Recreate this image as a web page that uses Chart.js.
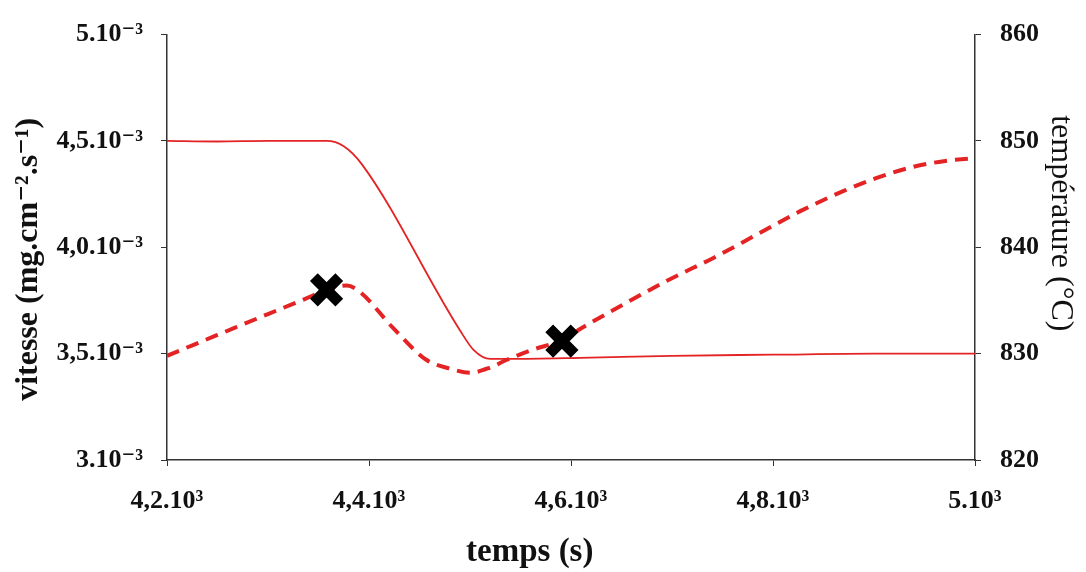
<!DOCTYPE html>
<html><head><meta charset="utf-8">
<script src="https://cdn.jsdelivr.net/npm/chart.js@4.4.1/dist/chart.umd.min.js"></script>
<style>html,body{margin:0;padding:0;background:#fff;} canvas{display:block;}</style>
</head><body>
<canvas id="c" width="1086" height="572"></canvas>
<script>
// Temperature (solid line, right axis)
const tempsTemperature = [4200, 4250, 4300, 4358, 4375, 4393, 4490, 4504, 4520, 4540, 4609, 4700, 4800, 4900, 5000];
const temperature      = [850.0, 849.95, 850.0, 850.0, 849.5, 847.8, 832.2, 830.3, 829.5, 829.5, 829.6, 829.8, 829.9, 830.0, 830.0];
// Vitesse (dashed line, left axis)
const tempsVitesse = [4200, 4250, 4300, 4338, 4358, 4378, 4391, 4424, 4457, 4480, 4500, 4520, 4536, 4563, 4589, 4614, 4655, 4698, 4741, 4784, 4827, 4870, 4902, 4936, 4969, 5000];
const vitesse      = [0.00349, 0.003588, 0.003686, 0.00376, 0.00380, 0.00382, 0.00379, 0.00362, 0.00347, 0.00343, 0.00341, 0.003435, 0.00347, 0.00352, 0.00356, 0.00363, 0.00374, 0.00385, 0.00395, 0.00406, 0.00417, 0.004265, 0.004325, 0.004375, 0.004405, 0.00442];
// Markers
const tempsMarqueurs = [4358, 4591];
const vitesseMarqueurs = [0.00380, 0.003559];
// Ticks
const xTicks = [4200, 4400, 4600, 4800, 5000];
const xTickLabels = ['4,2.10³', '4,4.10³', '4,6.10³', '4,8.10³', '5.10³'];
const yTicks = [0.003, 0.0035, 0.004, 0.0045, 0.005];
const yTickLabels = ['3.10⁻³', '3,5.10⁻³', '4,0.10⁻³', '4,5.10⁻³', '5.10⁻³'];
const tTicks = [820, 830, 840, 850, 860];
const tTickLabels = ['820', '830', '840', '850', '860'];

const RED = 'rgb(228, 36, 36)';
const AXIS = '#333';
const FONT = '"Liberation Serif", "DejaVu Serif", serif';

function pts(xs, ys) { return xs.map((x, i) => ({x: x, y: ys[i]})); }
function setTicks(list) { return (scale) => { scale.ticks = list.map(v => ({value: v})); }; }

new Chart(document.getElementById('c'), {
  type: 'line',
  data: {
    datasets: [
      {
        label: 'points',
        data: pts(tempsMarqueurs, vitesseMarqueurs),
        yAxisID: 'y',
        showLine: false,
        pointStyle: 'crossRot',
        pointRadius: 18,
        pointBorderWidth: 11,
        pointBorderColor: '#000',
        pointBackgroundColor: '#000',
        order: 0
      },
      {
        label: 'vitesse',
        data: pts(tempsVitesse, vitesse),
        yAxisID: 'y',
        borderColor: RED,
        borderWidth: 4,
        borderDash: [13, 8],
        pointRadius: 0,
        cubicInterpolationMode: 'monotone',
        order: 1
      },
      {
        label: 'température',
        data: pts(tempsTemperature, temperature),
        yAxisID: 'yT',
        borderColor: RED,
        borderWidth: 1.8,
        pointRadius: 0,
        cubicInterpolationMode: 'monotone',
        order: 2
      }
    ]
  },
  options: {
    responsive: false,
    animation: false,
    devicePixelRatio: 1,
    layout: { padding: { top: 31, left: 0, right: 0, bottom: 0 } },
    plugins: { legend: { display: false }, tooltip: { enabled: false } },
    scales: {
      x: {
        type: 'linear',
        min: 4200, max: 5000,
        afterBuildTicks: setTicks(xTicks),
        afterFit: (s) => { s.height = 112; },
        border: { display: true, color: AXIS, width: 1.5 },
        grid: { drawOnChartArea: false, drawTicks: true, tickLength: 6, tickColor: AXIS },
        ticks: {
          padding: 20,
          color: '#111',
          maxRotation: 0,
          font: { family: FONT, size: 26, weight: 'bold' },
          callback: (v, i) => xTickLabels[i]
        },
        title: {
          display: true,
          text: 'temps (s)' + '\u00A0'.repeat(10),
          color: '#111',
          padding: { top: 0, bottom: 0 },
          font: { family: FONT, size: 33, weight: 'bold' }
        }
      },
      y: {
        type: 'linear',
        position: 'left',
        min: 0.003, max: 0.005,
        afterBuildTicks: setTicks(yTicks),
        afterFit: (s) => { s.width = 167; },
        border: { display: true, color: AXIS, width: 1.5 },
        grid: { drawOnChartArea: false, drawTicks: true, tickLength: 6, tickColor: AXIS },
        ticks: {
          padding: 18,
          color: '#111',
          font: { family: FONT, size: 26, weight: 'bold' },
          callback: (v, i) => yTickLabels[i]
        },
        title: {
          display: true,
          text: 'vitesse (mg.cm⁻².s⁻¹)' + '\u00A0'.repeat(3),
          color: '#111',
          padding: { top: 10, bottom: 0 },
          font: { family: FONT, size: 32, weight: 'bold' }
        }
      },
      yT: {
        type: 'linear',
        position: 'right',
        min: 820, max: 860,
        afterBuildTicks: setTicks(tTicks),
        afterFit: (s) => { s.width = 111; },
        border: { display: true, color: AXIS, width: 1.5 },
        grid: { drawOnChartArea: false, drawTicks: true, tickLength: 6, tickColor: AXIS },
        ticks: {
          padding: 19,
          color: '#111',
          font: { family: FONT, size: 26, weight: 'bold' },
          callback: (v, i) => tTickLabels[i]
        },
        title: {
          display: true,
          text: 'température (°C)' + '\u00A0'.repeat(6),
          color: '#111',
          padding: { top: 6, bottom: 0 },
          font: { family: FONT, size: 32, weight: 'normal' }
        }
      }
    }
  }
});
</script>
</body></html>
